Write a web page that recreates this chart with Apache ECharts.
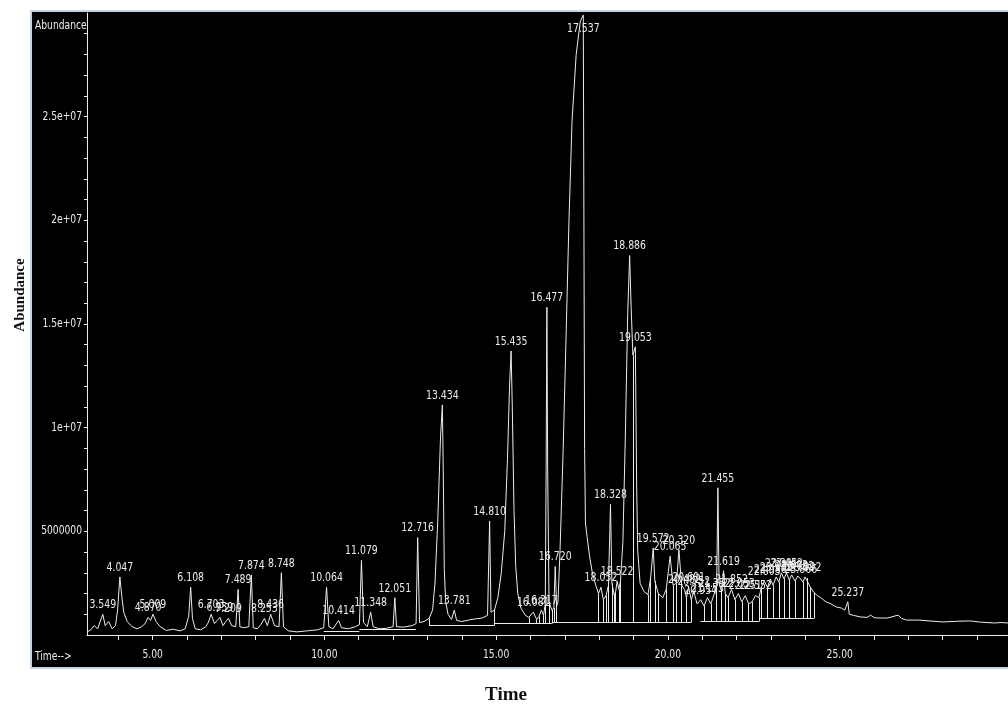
<!DOCTYPE html>
<html>
<head>
<meta charset="utf-8">
<script src="https://cdn.jsdelivr.net/npm/echarts@6/dist/echarts.min.js"></script>
<style>
html,body{margin:0;padding:0;background:#fff;}
#chart{width:1008px;height:706px;}
</style>
</head>
<body>
<div id="chart"></div>
<script>
// ---- Data (time in min, abundance in millions) ----
const traceTime = [
3.10,3.20,3.30,3.40,3.549,3.62,3.72,3.82,3.92,3.98,4.047,4.10,4.16,4.26,4.40,4.55,4.68,4.78,4.870,4.94,5.009,5.10,5.22,5.40,5.60,5.80,5.95,6.05,6.108,6.16,6.24,6.40,6.55,6.62,6.703,6.80,6.88,6.959,7.05,7.13,7.209,7.30,7.42,7.489,7.54,7.65,7.80,7.874,7.93,8.05,8.15,8.253,8.34,8.436,8.55,8.68,8.748,8.81,8.95,9.20,9.50,9.80,9.98,10.064,10.13,10.25,10.414,10.50,10.70,10.90,11.02,11.079,11.14,11.25,11.348,11.42,11.60,11.80,12.00,12.051,12.10,12.30,12.55,12.67,12.716,12.77,12.90,13.05,13.15,13.22,13.30,13.38,13.434,13.46,13.49,13.53,13.60,13.70,13.781,13.85,14.00,14.20,14.40,14.60,14.75,14.810,14.85,14.95,15.05,15.15,15.25,15.33,15.39,15.435,15.47,15.52,15.57,15.63,15.72,15.85,15.95,16.081,16.18,16.25,16.317,16.38,16.43,16.455,16.477,16.50,16.54,16.62,16.68,16.720,16.76,16.80,16.86,16.95,17.04,17.12,17.21,17.33,17.45,17.537,17.555,17.575,17.60,17.65,17.72,17.80,17.90,17.98,18.052,18.12,18.20,18.27,18.328,18.37,18.44,18.48,18.522,18.57,18.62,18.69,18.76,18.83,18.886,18.93,18.98,19.053,19.09,19.12,19.19,19.30,19.42,19.50,19.572,19.62,19.72,19.85,19.95,20.065,20.15,20.25,20.320,20.40,20.482,20.54,20.601,20.68,20.752,20.85,20.954,21.05,21.153,21.25,21.352,21.42,21.455,21.49,21.56,21.619,21.67,21.75,21.852,21.95,22.053,22.15,22.251,22.35,22.45,22.552,22.65,22.72,22.803,22.90,22.980,23.06,23.152,23.23,23.301,23.38,23.452,23.53,23.603,23.70,23.782,23.866,23.93,23.992,24.05,24.15,24.25,24.35,24.45,24.60,24.75,24.90,25.05,25.15,25.237,25.28,25.40,25.60,25.80,25.90,26.00,26.10,26.40,26.70,26.80,26.95,27.30,27.60,28.00,28.40,28.80,29.10,29.50,29.70,29.90
];
const traceAbundM = [
0.15,0.25,0.45,0.30,1.00,0.45,0.65,0.30,0.45,1.20,2.80,1.90,1.10,0.65,0.40,0.30,0.40,0.55,0.85,0.70,1.00,0.65,0.40,0.22,0.28,0.20,0.30,0.90,2.30,0.80,0.30,0.25,0.40,0.60,1.00,0.55,0.70,0.85,0.45,0.65,0.80,0.45,0.40,2.20,0.40,0.35,0.40,2.90,0.35,0.30,0.50,0.80,0.45,1.00,0.45,0.40,3.00,0.40,0.20,0.15,0.20,0.25,0.35,2.30,0.40,0.30,0.70,0.35,0.30,0.40,0.50,3.60,0.60,0.40,1.10,0.40,0.30,0.32,0.40,1.80,0.40,0.38,0.45,0.55,4.70,0.60,0.65,0.80,1.20,2.50,5.50,9.50,11.10,8.00,3.20,1.60,1.00,0.75,1.20,0.70,0.65,0.72,0.78,0.82,0.95,5.50,1.10,1.20,1.80,3.00,5.00,8.50,12.00,13.70,11.00,6.00,3.30,2.00,1.30,0.95,0.85,1.10,0.75,0.90,1.20,0.95,1.50,8.00,15.80,8.00,1.60,1.20,1.30,3.30,1.40,1.60,4.10,8.90,14.70,20.00,24.80,28.00,29.60,29.90,20.00,9.00,5.40,4.70,3.80,3.00,2.40,2.00,2.30,1.70,1.90,2.40,6.30,2.50,1.90,2.10,2.60,2.20,2.60,4.50,9.50,15.50,18.30,15.80,13.50,13.90,7.30,4.10,2.50,2.10,1.95,2.80,4.20,2.60,2.00,1.80,2.20,3.80,2.40,2.50,4.10,2.40,2.20,1.80,2.30,1.70,2.10,1.50,1.70,1.40,1.80,1.50,2.00,2.40,7.10,2.50,2.10,3.10,2.00,1.80,2.20,1.70,2.00,1.60,1.90,1.50,1.60,1.90,1.80,2.30,2.60,2.30,2.70,2.40,2.80,2.55,3.00,2.70,3.00,2.65,2.90,2.60,2.85,2.70,2.55,2.80,2.75,2.30,2.05,1.90,1.80,1.60,1.50,1.35,1.30,1.20,1.60,1.00,0.95,0.87,0.85,0.96,0.84,0.82,0.82,0.96,0.80,0.72,0.72,0.68,0.63,0.66,0.68,0.62,0.58,0.60,0.58
];
// peak labels (retention times, as printed)
const peakLabels = ['3.549','4.047','4.870','5.009','6.108','6.703','6.959','7.209','7.489','7.874','8.253','8.436','8.748','10.064','10.414','11.079','11.348','12.051','12.716','13.434','13.781','14.810','15.435','16.081','16.317','16.477','16.720','17.537','18.052','18.328','18.522','18.886','19.053','19.572','20.065','20.320','20.482','20.601','20.752','20.954','21.153','21.352','21.455','21.619','21.852','22.053','22.251','22.552','22.803','22.980','23.152','23.301','23.452','23.603','23.782','23.866','23.992','25.237'];
// integration baseline segments
const baseStart = [9.98, 11.02, 13.05, 14.95, 16.62, 19.42, 20.95, 22.65];
const baseEnd   = [11.02, 12.67, 14.95, 16.62, 19.42, 20.68, 22.65, 24.25];
const baseLevelM = [0.18, 0.28, 0.45, 0.55, 0.60, 0.60, 0.65, 0.80];
// integration drop-line times
const dropTimes = [13.05,14.95,15.95,16.18,16.25,16.38,16.43,16.54,16.62,16.68,16.76,17.98,18.12,18.20,18.27,18.37,18.44,18.48,18.57,18.62,18.98,19.42,19.50,19.62,19.72,19.95,20.15,20.25,20.40,20.54,20.68,21.05,21.25,21.42,21.56,21.67,21.75,21.95,22.15,22.35,22.45,22.65,22.72,22.90,23.06,23.23,23.38,23.53,23.70,23.93,24.05,24.15,24.25];
// axis ticks and labels
const xMin = 3.09, xMax = 29.9, yMax = 3e7;
const xTickValues = [4,5,6,7,8,9,10,11,12,13,14,15,16,17,18,19,20,21,22,23,24,25,26,27,28,29];
const xLabelValues = [5,10,15,20,25];
const xLabelTexts = ['5.00','10.00','15.00','20.00','25.00'];
const yLabelValues = [5e6,1e7,1.5e7,2e7,2.5e7];
const yLabelTexts = ['5000000','1e+07','1.5e+07','2e+07','2.5e+07'];

const M = 1e6;
const trace = traceTime.map((t,i)=>[t, traceAbundM[i]*M]);
function traceAt(t){ const i = traceTime.indexOf(t); return i>=0 ? traceAbundM[i]*M : null; }
const labelData = peakLabels.map((s,i)=>{ const t=parseFloat(s); return [t, traceAt(t), i]; });
const baseLines = baseStart.map((s,i)=>({coords:[[s, baseLevelM[i]*M],[baseEnd[i], baseLevelM[i]*M]]}));
const dropLines = [];
dropTimes.forEach(t=>{
  let lvl=null;
  for(let i=0;i<baseStart.length;i++){ if(t>=baseStart[i]-1e-9 && t<=baseEnd[i]+1e-9){ lvl=baseLevelM[i]*M; break; } }
  const top = traceAt(t);
  if(lvl!==null && top!==null) dropLines.push({coords:[[t,lvl],[t,top]]});
});
const yTickValues = [];
for(let v=1;v<=29;v++) yTickValues.push(v*M);

const COND = "'DejaVu Sans Condensed','DejaVu Sans',sans-serif";
const FG = '#ececec';

function textItem(x, y, text, align, vAlign, size, sx){
  return {type:'text', x:x, y:y, scaleX:sx, scaleY:1,
    style:{text:text, x:0, y:0, fill:FG, font:size+'px '+COND, align:align, verticalAlign:vAlign}};
}

const chart = echarts.init(document.getElementById('chart'), null, {renderer:'canvas'});
chart.setOption({
  animation:false,
  backgroundColor:'#ffffff',
  graphic:[
    {type:'rect', z:-10, shape:{x:31,y:11,width:979,height:657}, style:{fill:'#000000', stroke:'#c4d4e4', lineWidth:2}},
    {type:'text', z:10, x:35, y:26, scaleX:0.85, style:{text:'Abundance', fill:FG, font:"12px "+COND, verticalAlign:'middle'}},
    {type:'text', z:10, x:35, y:657, scaleX:0.85, style:{text:'Time-->', fill:FG, font:"12px "+COND, verticalAlign:'middle'}},
    {type:'text', z:10, x:20, y:295, rotation:Math.PI/2, style:{text:'Abundance', fill:'#111', font:"bold 15px 'Liberation Serif','Times New Roman',serif", align:'center', verticalAlign:'middle'}},
    {type:'text', z:10, x:506, y:695, style:{text:'Time', fill:'#111', font:"bold 19px 'Liberation Serif','Times New Roman',serif", align:'center', verticalAlign:'middle'}}
  ],
  grid:{left:87, right:0, top:13, bottom:71, containLabel:false},
  xAxis:{
    type:'value', min:xMin, max:xMax,
    axisLine:{show:true, onZero:false, lineStyle:{color:FG, width:1}},
    axisTick:{show:true, customValues:xTickValues, length:5, lineStyle:{color:FG}},
    axisLabel:{show:false},
    splitLine:{show:false}
  },
  yAxis:{
    type:'value', min:0, max:yMax,
    axisLine:{show:true, lineStyle:{color:FG, width:1}},
    axisTick:{show:true, customValues:yTickValues, length:3, lineStyle:{color:FG}},
    axisLabel:{show:false},
    splitLine:{show:false}
  },
  series:[
    {type:'line', data:trace, showSymbol:false, symbol:'none', lineStyle:{color:FG, width:1}, z:3, silent:true},
    {type:'lines', coordinateSystem:'cartesian2d', data:baseLines, lineStyle:{color:FG, width:1, opacity:1}, z:3, silent:true},
    {type:'lines', coordinateSystem:'cartesian2d', data:dropLines, lineStyle:{color:FG, width:1, opacity:1}, z:3, silent:true},
    // peak labels
    {type:'custom', data:labelData, z:4, silent:true, clip:false,
     renderItem:(params, api)=>{
       const p = api.coord([api.value(0), api.value(1)]);
       let y = p[1] - 3;
       if (y - 13 < 20) y = 35;
       return textItem(p[0], y, peakLabels[api.value(2)], 'center', 'bottom', 13, 0.8);
     }},
    // x axis labels
    {type:'custom', data:xLabelValues.map((v,i)=>[v,i]), z:4, silent:true, clip:false,
     renderItem:(params, api)=>{
       const p = api.coord([api.value(0), 0]);
       return textItem(p[0], p[1]+20, xLabelTexts[api.value(1)], 'center', 'middle', 12, 0.85);
     }},
    // y axis labels
    {type:'custom', data:yLabelValues.map((v,i)=>[xMin, v, i]), z:4, silent:true, clip:false,
     renderItem:(params, api)=>{
       const p = api.coord([api.value(0), api.value(1)]);
       return textItem(p[0]-5, p[1], yLabelTexts[api.value(2)], 'right', 'middle', 12, 0.85);
     }}
  ]
});
</script>
</body>
</html>
